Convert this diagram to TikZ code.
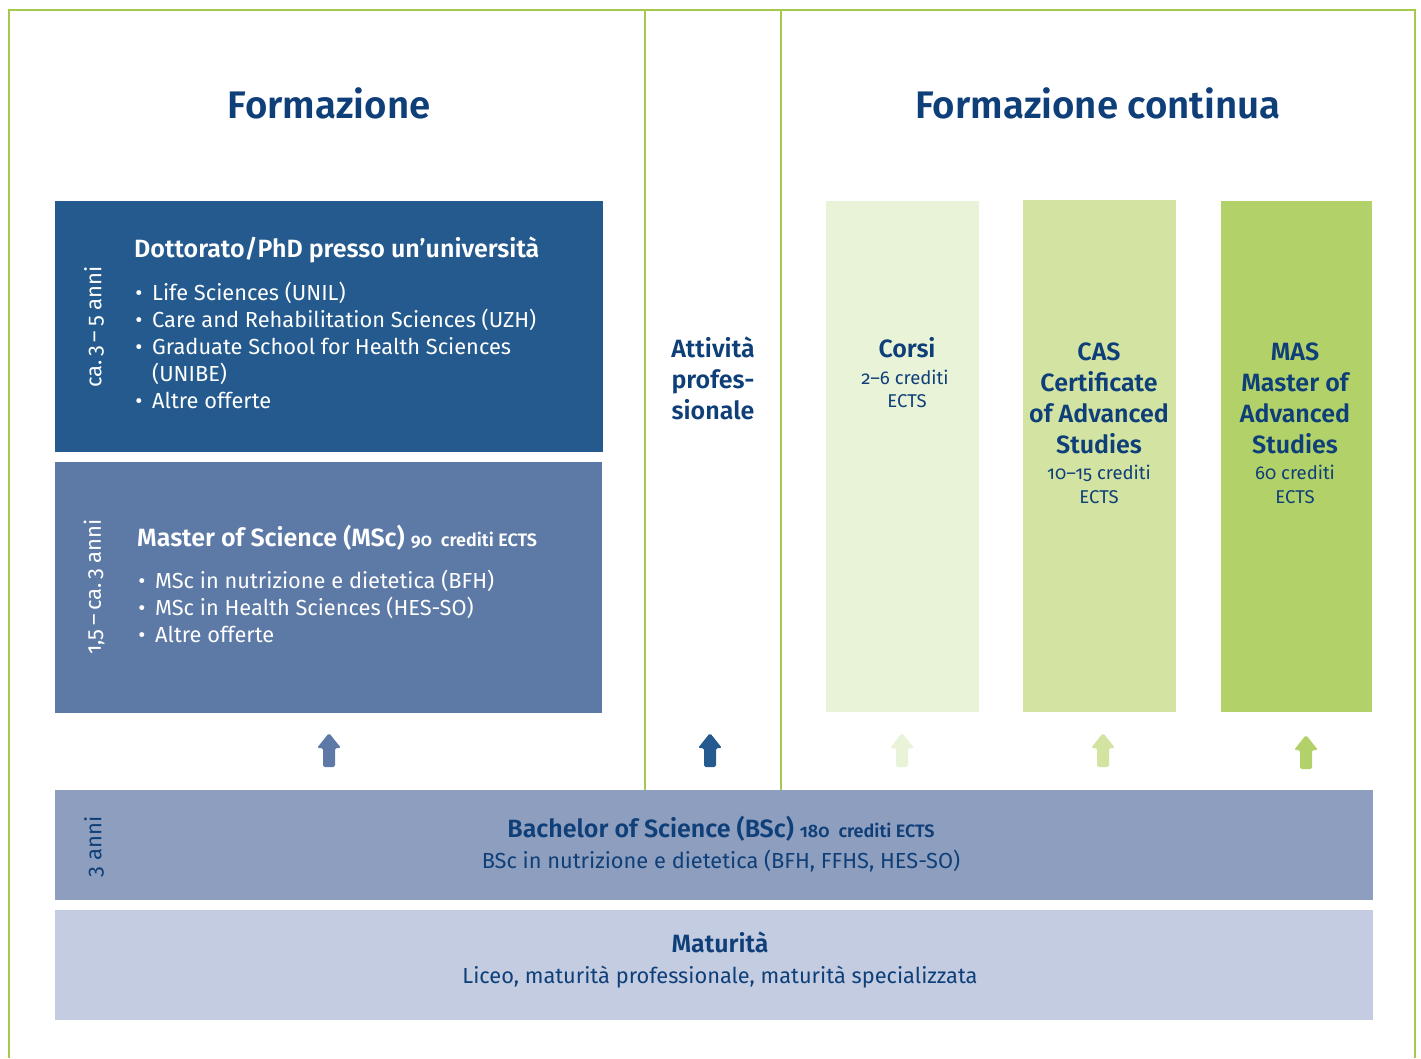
\documentclass[tikz,border=0pt]{standalone}
\usepackage{fontspec}
\setmainfont{Fira Sans}[Numbers=OldStyle, BoldFont={Fira Sans SemiBold}]
\definecolor{frame}{HTML}{A4C94C}
\definecolor{ink}{HTML}{0F3F78}
\definecolor{phdc}{HTML}{245A8D}
\definecolor{mscc}{HTML}{5D7AA6}
\definecolor{bscc}{HTML}{8D9EBF}
\definecolor{matc}{HTML}{C3CCE0}
\definecolor{corc}{HTML}{E9F3D7}
\definecolor{casc}{HTML}{D2E3A2}
\definecolor{masc}{HTML}{B2D168}
\newcommand\fs[2]{\fontsize{#1}{#2}\selectfont}
\tikzset{
  box/.style={inner sep=0pt, outer sep=0pt, anchor=north west},
  ttl/.style={font=\fs{38.4}{46}\bfseries, text=ink, anchor=base, inner sep=0pt},
  hd/.style={font=\fs{25}{30}\bfseries, inner sep=0pt},
  it/.style={font=\fs{21.8}{27}, inner sep=0pt},
  sm/.style={font=\fs{18.5}{22}, inner sep=0pt, text=ink, anchor=base},
  yrs/.style={font=\fs{22}{25}, rotate=90, inner sep=0pt},
  frameline/.style={draw=frame, line width=2.5pt},
  pics/uparr/.style={code={
    \fill[pic actions, rounded corners=1.6pt]
      (0,-17) -- (12,-2) -- (6,-2) -- (6,17) -- (-6,17) -- (-6,-2) -- (-12,-2) -- cycle;}}
}
\begin{document}
\begin{tikzpicture}[x=1pt,y=-1pt]
\useasboundingbox (0,0) rectangle (1421,1058);
% frame
\coordinate (fbl) at (9,1058);
\coordinate (ftl) at (9,10);
\coordinate (ftr) at (1415,10);
\coordinate (fbr) at (1415,1058);
\draw[frameline] (fbl) -- (ftl) -- (ftr) -- (fbr);
\coordinate (v1t) at (645,10);
\coordinate (v1b) at (645,790);
\coordinate (v2t) at (781,10);
\coordinate (v2b) at (781,790);
\draw[frameline, line width=2pt] (v1t) -- (v1b);
\draw[frameline, line width=2pt] (v2t) -- (v2b);

% titles
\node[ttl] (t1) at (329,118) {Formazione};
\node[ttl] (t2) at (1098,118) {Formazione continua};

% boxes
\node[box, fill=phdc, minimum width=548pt, minimum height=251pt] (phd) at (55,201) {};
\node[box, fill=mscc, minimum width=547pt, minimum height=251pt] (msc) at (55,462) {};
\node[box, fill=corc, minimum width=153pt, minimum height=511pt] (cor) at (826,201) {};
\node[box, fill=casc, minimum width=153pt, minimum height=512pt] (cas) at (1023,200) {};
\node[box, fill=masc, minimum width=151pt, minimum height=511pt] (mas) at (1221,201) {};
\node[box, fill=bscc, minimum width=1318pt, minimum height=110pt] (bsc) at (55,790) {};
\node[box, fill=matc, minimum width=1318pt, minimum height=110pt] (mat) at (55,910) {};

% PhD text
\node[yrs, text=white] (phdy) at (94,327) {ca.\,3\,–\,5 anni};
\node[hd, text=white, anchor=base west] (phdh) at (134,257) {Dottorato/PhD presso un’università};
\foreach \t/\y/\b [count=\i] in {Life Sciences (UNIL)/300/1,Care and Rehabilitation Sciences (UZH)/327/1,Graduate School for Health Sciences/354/1,(UNIBE)/381/0,Altre offerte/408/1}{
  \node[it, text=white, anchor=base west] (phdi\i) at (152,\y) {\t};
  \ifnum\b=1 \node[it, text=white, anchor=base] (phdb\i) at (139,\y) {•};\fi
}

% MSc text
\node[yrs, text=white] (mscy) at (94,587) {1,5\,–\,ca.\,3 anni};
\node[hd, text=white, anchor=base west] (msch) at (137,546) {Master of Science (MSc) {\fs{18}{20}90\enspace crediti ECTS}};
\foreach \t/\y [count=\i] in {MSc in nutrizione e dietetica (BFH)/588,MSc in Health Sciences (HES-SO)/615,Altre offerte/642}{
  \node[it, text=white, anchor=base west] (msci\i) at (155,\y) {\t};
  \node[it, text=white, anchor=base] (mscb\i) at (142,\y) {•};
}

% Attivita
\foreach \t/\y [count=\i] in {Attività/357,profes-/388,sionale/419}{
  \node[hd, text=ink, anchor=base] (att\i) at (713,\y) {\t};
}

% Corsi
\node[hd, text=ink, anchor=base] (corh) at (907,357) {Corsi};
\node[sm] (cor1) at (905,384) {2–6 crediti};
\node[sm] (cor2) at (907,407) {ECTS};

% CAS
\foreach \t/\y [count=\i] in {CAS/360,Certificate/391,of Advanced/422,Studies/453}{
  \node[hd, text=ink, anchor=base] (cash\i) at (1099,\y) {\t};
}
\node[sm] (cas1) at (1099,479) {10–15 crediti};
\node[sm] (cas2) at (1099,503) {ECTS};

% MAS
\foreach \t/\y [count=\i] in {MAS/360,Master of/391,Advanced/422,Studies/453}{
  \node[hd, text=ink, anchor=base] (mash\i) at (1295,\y) {\t};
}
\node[sm] (mas1) at (1295,479) {60 crediti};
\node[sm] (mas2) at (1295,503) {ECTS};

% arrows
\pic[fill=mscc] (a1) at (329,750) {uparr};
\pic[fill=phdc] (a2) at (710,750) {uparr};
\pic[fill=corc] (a3) at (902,750) {uparr};
\pic[fill=casc] (a4) at (1103,750) {uparr};
\pic[fill=masc] (a5) at (1306,752) {uparr};

% Bachelor
\node[yrs, text=ink] (bscy) at (94,847) {3 anni};
\node[hd, text=ink, anchor=base] (bsch) at (721,837) {Bachelor of Science (BSc) {\fs{18}{20}180\enspace crediti ECTS}};
\node[it, text=ink, anchor=base] (bsc1) at (721,868) {BSc in nutrizione e dietetica (BFH, FFHS, HES-SO)};

% Maturita
\node[hd, text=ink, anchor=base] (math) at (720,952) {Maturità};
\node[it, text=ink, anchor=base] (mat1) at (720,983) {Liceo, maturità professionale, maturità specializzata};
\end{tikzpicture}
\end{document}
